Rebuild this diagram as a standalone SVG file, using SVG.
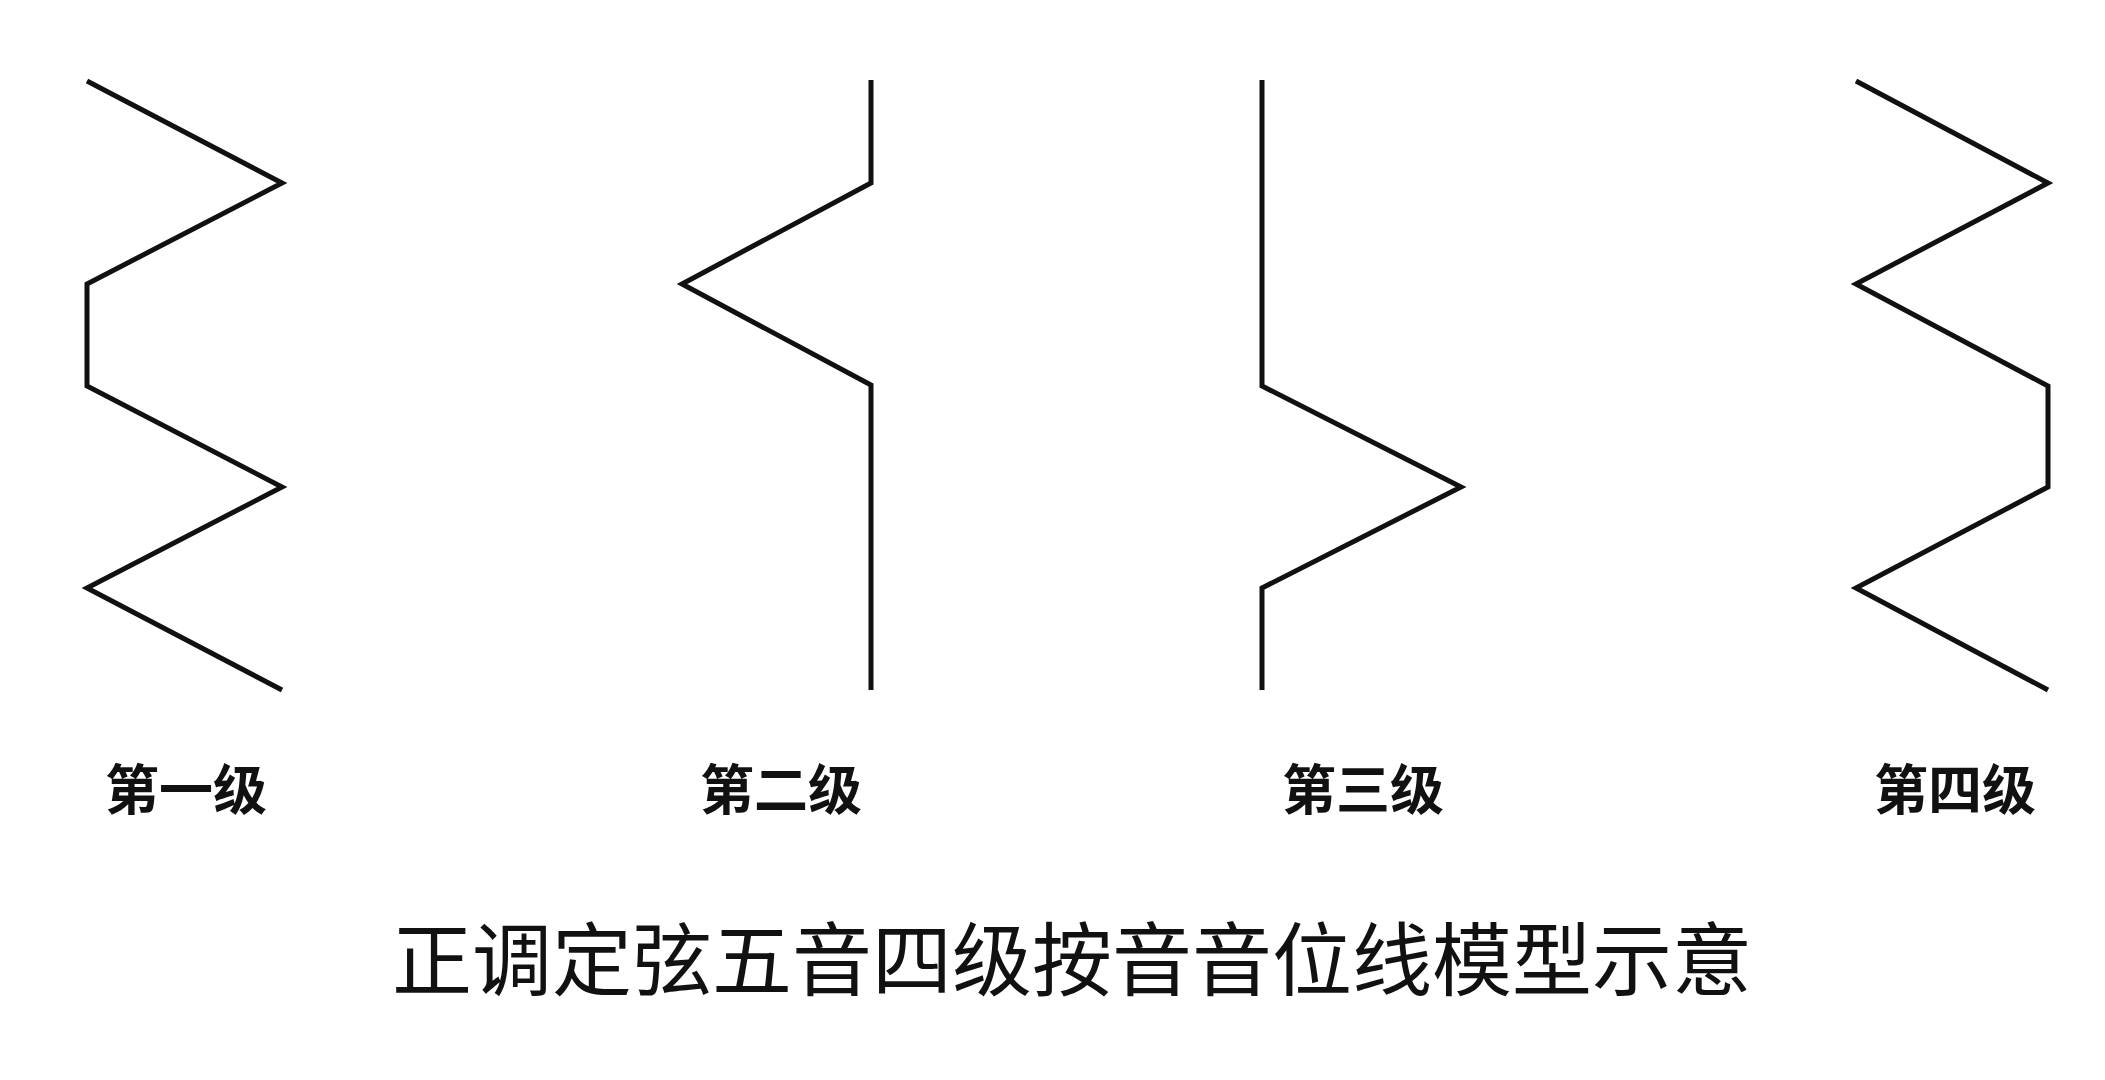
<svg xmlns="http://www.w3.org/2000/svg" width="2105" height="1080" viewBox="0 0 2105 1080">
<style>
.bg{fill:#ffffff}
.line{fill:none;stroke:#111111;stroke-width:5;stroke-linejoin:miter;stroke-miterlimit:10;stroke-linecap:butt}
.lbl{font-family:"Noto Sans CJK SC","Noto Sans CJK TC",sans-serif;font-size:54px;font-weight:bold;fill:#111111;text-anchor:middle}
.title{font-family:"Noto Sans CJK SC","Noto Sans CJK TC",sans-serif;font-size:80px;font-weight:normal;fill:#111111;text-anchor:middle}
</style>
<rect class="bg" x="0" y="0" width="2105" height="1080"/>
<g id="level1">
<polyline class="line" points="87,81 282,183 87,284 87,386 282,487 87,588 282,690"/>
<text class="lbl" x="186" y="810">第一级</text>
</g>
<g id="level2">
<polyline class="line" points="871,80 871,183 682,284 871,385 871,690"/>
<text class="lbl" x="781" y="810">第二级</text>
</g>
<g id="level3">
<polyline class="line" points="1262,80 1262,386 1461,487 1262,588 1262,690"/>
<text class="lbl" x="1363" y="810">第三级</text>
</g>
<g id="level4">
<polyline class="line" points="1856,81 2048,183 1856,284 2048,386 2048,487 1856,588 2048,690"/>
<text class="lbl" x="1955" y="810">第四级</text>
</g>
<g id="title">
<text class="title" x="1072" y="989">正调定弦五音四级按音音位线模型示意</text>
</g>
<g id="connectors"></g>
</svg>
